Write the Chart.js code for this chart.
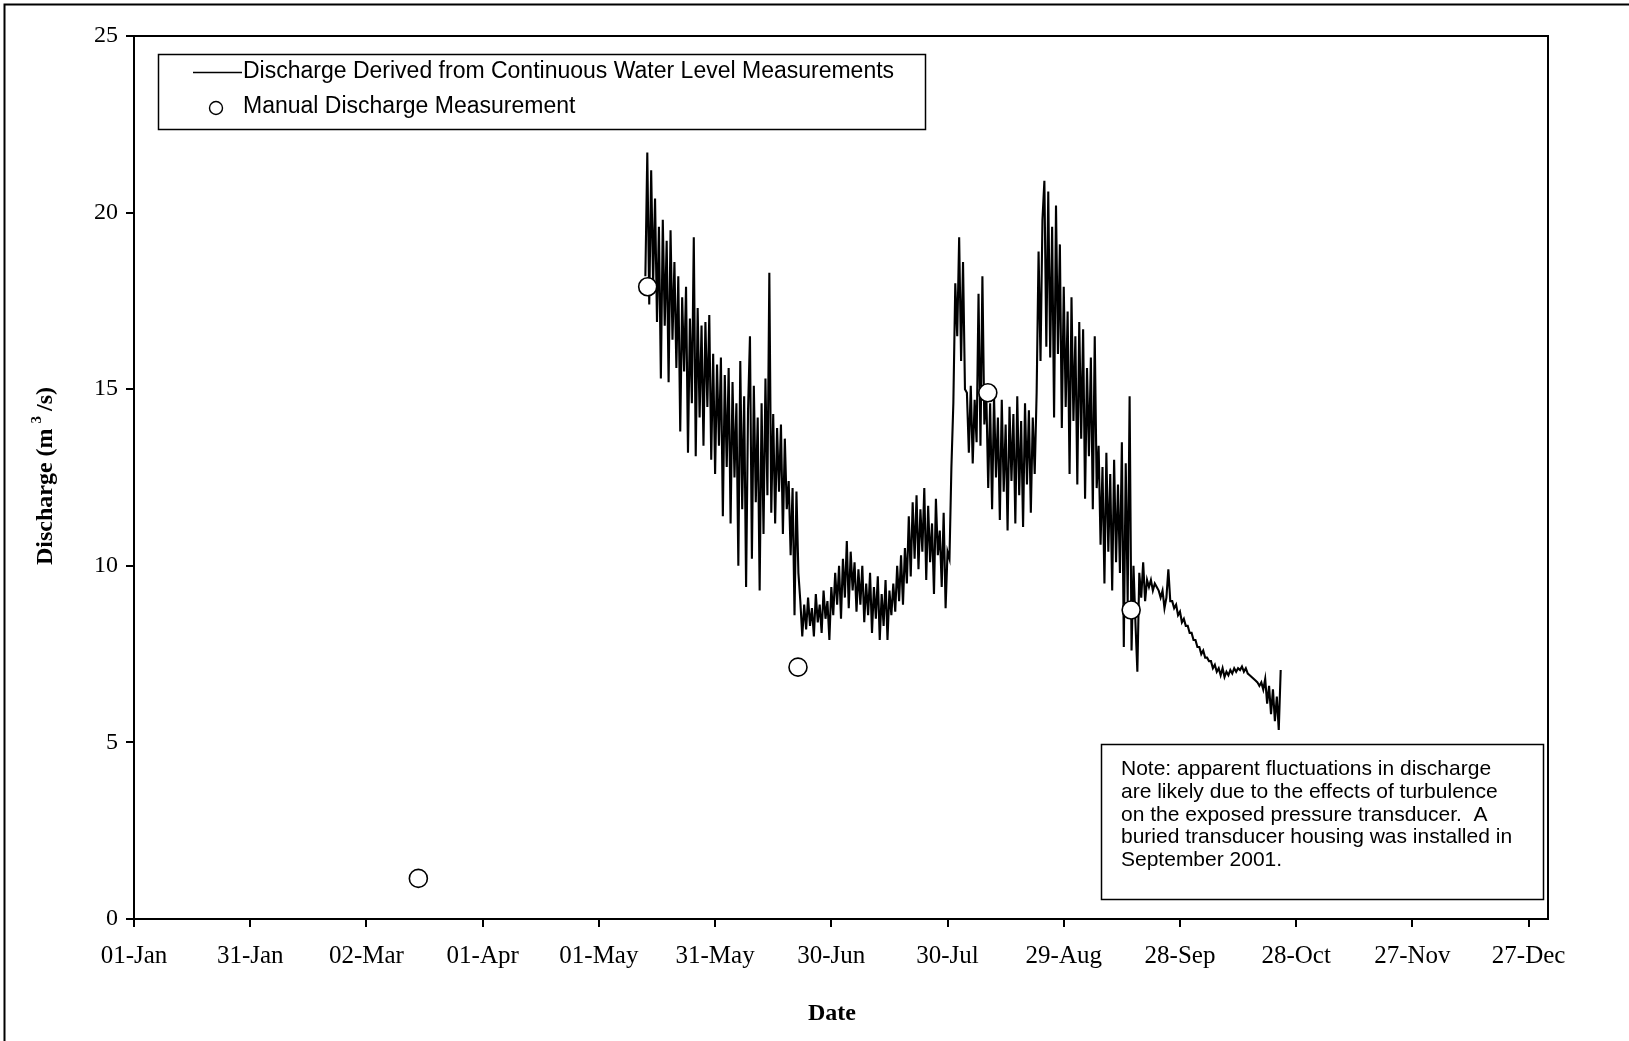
<!DOCTYPE html>
<html>
<head>
<meta charset="utf-8">
<script src="https://cdn.jsdelivr.net/npm/chart.js@4.4.1/dist/chart.umd.min.js"></script>
<style>
html,body{margin:0;padding:0;background:#fff;overflow:hidden}
canvas{display:block}
</style>
</head>
<body>
<canvas id="c" width="1629" height="1041"></canvas>
<script>
// ---------- DATA ----------
const xTickDays = [0, 30, 60, 90, 120, 150, 180, 210, 240, 270, 300, 330, 360];
const xTickLabels = ['01-Jan','31-Jan','02-Mar','01-Apr','01-May','31-May','30-Jun','30-Jul','29-Aug','28-Sep','28-Oct','27-Nov','27-Dec'];
const yTicks = [0, 5, 10, 15, 20, 25];

// Manual discharge measurements (day of year, m3/s)
const manualDays = [73.4, 132.6, 171.4, 220.4, 257.4];
const manualValues = [1.15, 17.9, 7.13, 14.9, 8.75];

// Continuous record, sampled every half day starting at day 132
const contStartDay = 132;
const contStepDays = 0.5;
const contValues = [
  18.2,21.7,17.4,21.2,18.0,20.4,16.9,19.6,15.3,19.8,16.8,19.2,15.2,19.5,16.4,18.6,15.6,
  18.2,13.8,17.6,15.5,17.9,13.2,17.0,14.6,19.3,13.1,
  17.3,14.2,16.8,13.4,16.9,14.5,17.1,13.0,
  16.0,12.6,15.7,13.4,15.9,11.4,15.4,12.8,15.6,11.2,
  15.2,12.5,14.6,10.0,15.8,11.6,14.8,9.4,14.4,16.5,10.2,
  15.1,11.8,14.2,9.3,14.6,10.9,15.3,12.0,18.3,11.5,
  14.3,11.2,13.9,12.1,14.0,10.9,13.6,11.6,
  12.4,10.3,12.2,8.6,12.1,9.8,
  9.0,8.0,8.9,
  8.2,9.1,8.3,8.8,8.0,9.2,8.4,8.9,8.1,9.3,8.5,9.0,7.9,9.4,
  8.6,9.8,8.9,10.0,8.5,10.2,9.1,10.7,8.8,10.4,9.3,10.1,8.7,9.9,8.9,
  10.0,8.4,9.5,8.6,9.8,8.1,9.4,8.5,9.7,7.9,9.2,8.3,9.6,7.9,9.3,8.6,9.5,
  8.7,10.0,9.0,10.3,8.9,10.5,9.5,
  11.4,9.7,11.8,10.2,12.0,9.9,11.6,10.4,12.2,9.6,
  11.7,10.1,11.2,9.2,11.9,10.3,11.0,9.4,11.5,8.8,10.4,
  10.2,12.8,14.6,18.0,
  16.5,19.3,15.8,18.6,15.0,
  14.9,13.2,15.1,12.9,14.7,13.5,17.7,13.4,18.2,14.0,
  14.9,12.2,14.6,11.6,14.8,12.5,14.2,11.3,14.7,12.1,14.0,11.0,14.5,12.4,14.3,11.2,14.8,12.0,14.1,11.1,14.6,12.3,14.4,11.5,14.2,12.6,
  14.9,18.9,15.8,19.8,20.9,16.2,
  20.6,15.9,19.6,14.2,20.2,16.0,19.1,13.9,
  17.9,14.5,17.2,12.6,17.6,14.1,16.5,12.3,16.9,13.6,
  16.7,11.9,15.6,13.1,15.9,11.6,16.5,12.2,
  13.4,10.6,12.8,9.5,13.2,10.4,12.6,9.3,13.0,10.1,12.3,9.8,13.5,7.7,12.9,9.0,
  14.8,7.6,10.0,8.4,7.0,9.8,9.1,10.1,9.0,
  9.6,9.4,9.6,9.3,9.5,9.4,9.3,
  9.1,9.3,8.8,9.1,9.9,9.0,
  9.0,8.8,8.9,8.6,8.7,8.4,8.5,8.3,8.3,8.1,
  8.1,7.9,7.9,7.7,7.7,7.5,7.6,7.4,7.4,7.3,7.3,7.1,
  7.2,7.0,7.1,6.9,7.1,6.85,7.0,6.9,7.05,
  6.95,7.1,7.0,7.1,7.05,7.15,7.0,7.1,
  6.95,6.9,6.85,6.8,6.75,6.7,6.6,6.7,6.5,
  6.8,6.1,6.6,5.8,6.5,5.6,6.3,5.35,7.05
];

const legendLabels = ['Discharge Derived from Continuous Water Level Measurements', 'Manual Discharge Measurement'];
const noteLines = [
  'Note: apparent fluctuations in discharge',
  'are likely due to the effects of turbulence',
  'on the exposed pressure transducer.  A',
  'buried transducer housing was installed in',
  'September 2001.'
];
const xTitle = 'Date';

// ---------- BUILD ----------
const contPoints = contValues.map((v, i) => ({ x: contStartDay + i * contStepDays, y: v }));
const manualPoints = manualValues.map((v, i) => ({ x: manualDays[i], y: v }));

const SERIF = '"Liberation Serif", "Times New Roman", serif';
const SANS = '"Liberation Sans", Arial, sans-serif';

const decorPlugin = {
  id: 'decor',
  beforeDraw(chart) {
    const ctx = chart.ctx;
    ctx.save();
    ctx.fillStyle = '#fff';
    ctx.fillRect(0, 0, chart.width, chart.height);
    ctx.restore();
  },
  afterDraw(chart) {
    const ctx = chart.ctx;
    const a = chart.chartArea;
    ctx.save();
    // outer frame (left and top edges visible)
    ctx.strokeStyle = '#000';
    ctx.lineWidth = 2;
    ctx.beginPath();
    ctx.moveTo(4.5, chart.height);
    ctx.lineTo(4.5, 4.5);
    ctx.lineTo(chart.width, 4.5);
    ctx.stroke();
    // plot box top and right
    ctx.beginPath();
    ctx.moveTo(a.left - 1, a.top);
    ctx.lineTo(a.right, a.top);
    ctx.lineTo(a.right, a.bottom + 1);
    ctx.stroke();

    // legend
    ctx.lineWidth = 1.5;
    ctx.fillStyle = '#fff';
    ctx.fillRect(158, 54, 767, 75);
    ctx.strokeRect(158.5, 54.5, 767, 75);
    ctx.beginPath();
    ctx.moveTo(193, 72.5);
    ctx.lineTo(242, 72.5);
    ctx.stroke();
    ctx.beginPath();
    ctx.arc(216, 108, 6.5, 0, Math.PI * 2);
    ctx.fillStyle = '#fff';
    ctx.fill();
    ctx.lineWidth = 1.4;
    ctx.stroke();
    ctx.fillStyle = '#000';
    ctx.font = '23px ' + SANS;
    ctx.textBaseline = 'middle';
    ctx.textAlign = 'left';
    ctx.fillText(legendLabels[0], 243, 72);
    ctx.fillText(legendLabels[1], 243, 107);

    // note box
    ctx.fillStyle = '#fff';
    ctx.fillRect(1101, 744, 442, 155);
    ctx.lineWidth = 1.5;
    ctx.strokeRect(1101.5, 744.5, 442, 155);
    ctx.fillStyle = '#000';
    ctx.font = '21px ' + SANS;
    const noteY = [769, 792, 815, 837, 860];
    noteLines.forEach((t, i) => ctx.fillText(t, 1121, noteY[i]));

    // x title
    ctx.font = 'bold 24px ' + SERIF;
    ctx.textAlign = 'center';
    ctx.fillText(xTitle, 832, 1014);

    // y title with superscript
    ctx.translate(44, 476);
    ctx.rotate(-Math.PI / 2);
    const p1 = 'Discharge (m', p2 = '3', p3 = '/s)';
    ctx.font = 'bold 24px ' + SERIF;
    const w1 = ctx.measureText(p1).width;
    const w3 = ctx.measureText(p3).width;
    ctx.font = 'bold 15px ' + SERIF;
    const w2 = ctx.measureText(p2).width;
    const gap = 5;
    const total = w1 + gap + w2 + gap + w3;
    let x = -total / 2;
    ctx.textAlign = 'left';
    ctx.textBaseline = 'alphabetic';
    ctx.font = 'bold 24px ' + SERIF;
    ctx.fillText(p1, x, 8);
    x += w1 + gap;
    ctx.font = 'bold 15px ' + SERIF;
    ctx.fillText(p2, x, -3);
    x += w2 + gap;
    ctx.font = 'bold 24px ' + SERIF;
    ctx.fillText(p3, x, 8);
    ctx.restore();
  }
};

new Chart(document.getElementById('c'), {
  type: 'scatter',
  data: {
    datasets: [
      {
        label: legendLabels[1],
        data: manualPoints,
        showLine: false,
        pointRadius: 9,
        pointHoverRadius: 9,
        pointBackgroundColor: '#fff',
        pointBorderColor: '#000',
        pointBorderWidth: 1.6
      },
      {
        label: legendLabels[0],
        data: contPoints,
        showLine: true,
        borderColor: '#000',
        borderWidth: 2.1,
        pointRadius: 0,
        tension: 0,
        fill: false
      }
    ]
  },
  options: {
    responsive: false,
    animation: false,
    devicePixelRatio: 1,
    events: [],
    layout: { padding: { left: 0, top: 36, right: 81, bottom: 0 } },
    plugins: { legend: { display: false }, tooltip: { enabled: false } },
    scales: {
      x: {
        type: 'linear',
        min: 0,
        max: 365,
        afterBuildTicks: s => { s.ticks = xTickDays.map(v => ({ value: v })); },
        afterFit: s => { s.height = 122; s.paddingLeft = 0; s.paddingRight = 0; s.paddingTop = 0; s.paddingBottom = 0; },
        grid: { drawOnChartArea: false, drawTicks: true, tickLength: 8, color: '#000', lineWidth: 2 },
        border: { display: true, color: '#000', width: 2 },
        ticks: {
          autoSkip: false, maxRotation: 0, minRotation: 0, padding: 14, color: '#000',
          font: { family: SERIF, size: 25 },
          callback: v => xTickLabels[xTickDays.indexOf(v)]
        }
      },
      y: {
        min: 0,
        max: 25,
        afterBuildTicks: s => { s.ticks = yTicks.map(v => ({ value: v })); },
        afterFit: s => { s.width = 134; s.paddingLeft = 0; s.paddingRight = 0; s.paddingTop = 0; s.paddingBottom = 0; },
        grid: { drawOnChartArea: false, drawTicks: true, tickLength: 8, color: '#000', lineWidth: 2 },
        border: { display: true, color: '#000', width: 2 },
        ticks: {
          padding: 8, color: '#000',
          font: { family: SERIF, size: 24 },
          callback: v => String(v)
        }
      }
    }
  },
  plugins: [decorPlugin]
});
</script>
</body>
</html>
